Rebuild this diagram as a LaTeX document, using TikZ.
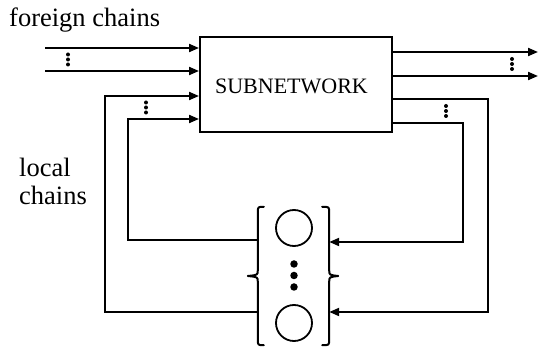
\documentclass[tikz,border=0pt]{standalone}
\usepackage{fontspec}
\setmainfont{Liberation Serif}
\usetikzlibrary{arrows.meta,calc}
\begin{document}
\begin{tikzpicture}[x=1pt,y=-1pt,
  arr/.style={line width=2pt,-{Triangle[length=10pt,width=8pt]}},
  brace/.style={line width=2pt,line cap=round,line join=round},
  chdot/.style={circle,fill=black,inner sep=0pt,minimum size=4pt},
  bigdot/.style={circle,fill=black,inner sep=0pt,minimum size=7.5pt},
  station/.style={circle,draw,line width=1.8pt,inner sep=0pt,minimum size=36pt},
  lbl/.style={inner sep=0pt,font=\fontsize{26.5}{28}\selectfont}]
\useasboundingbox (0,0) rectangle (542,347);
% subnetwork box
\node[draw,line width=2pt,minimum width=192pt,minimum height=95pt,inner sep=0pt] (sub) at (296,84.5) {};
\node[inner sep=0pt,font=\fontsize{22}{26}\selectfont,anchor=base] (subtxt) at (291.5,94) {SUBNETWORK};
% labels
\node[lbl,anchor=base west] (foreign) at (9,27) {foreign chains};
\node[lbl,anchor=base west,align=left] (local) at (19,205) {local\\chains};
% pool of stations with braces
\node[minimum width=71pt,minimum height=138pt,inner sep=0pt] (pool) at (293.5,276) {};
\node[station] (s1) at (294,228) {};
\node[station] (s2) at (294,323) {};
\node[bigdot] (d1) at (294,264) {};
\node[bigdot] (d2) at (294,275.5) {};
\node[bigdot] (d3) at (294,287) {};
\draw[brace] ($(pool.north west)+(6,0)$) .. controls ($(pool.north west)$) .. ($(pool.north west)+(0,6)$)
  -- ($(pool.west)+(0,-6)$) .. controls ($(pool.west)+(0,-1)$) .. ($(pool.west)+(-10,0)$)
  .. controls ($(pool.west)+(0,1)$) .. ($(pool.west)+(0,6)$)
  -- ($(pool.south west)+(0,-6)$) .. controls ($(pool.south west)$) .. ($(pool.south west)+(6,0)$);
\draw[brace] ($(pool.north east)+(-7,0)$) .. controls ($(pool.north east)$) .. ($(pool.north east)+(0,6)$)
  -- ($(pool.east)+(0,-6)$) .. controls ($(pool.east)+(0,-1)$) .. ($(pool.east)+(9,0)$)
  .. controls ($(pool.east)+(0,1)$) .. ($(pool.east)+(0,6)$)
  -- ($(pool.south east)+(0,-6)$) .. controls ($(pool.south east)$) .. ($(pool.south east)+(-7,0)$);
% foreign chains in
\coordinate (f1) at (45,48);
\coordinate (f2) at (45,71);
\draw[arr] (f1) -- (f1 -| sub.west);
\draw[arr] (f2) -- (f2 -| sub.west);
\node[chdot] (fd1) at (68,54.5) {};
\node[chdot] (fd2) at (68,59.5) {};
\node[chdot] (fd3) at (68,64.5) {};
% foreign chains out
\coordinate (o1) at (538,52);
\coordinate (o2) at (538,76);
\draw[arr] (o1 -| sub.east) -- (o1);
\draw[arr] (o2 -| sub.east) -- (o2);
\node[chdot] (od1) at (512,59) {};
\node[chdot] (od2) at (512,64) {};
\node[chdot] (od3) at (512,69) {};
% local chains: pool -> subnetwork (left side)
\coordinate (lo) at (105,312);
\coordinate (li) at (128,240);
\coordinate (lo2) at (105,96);
\coordinate (li2) at (128,119);
\draw[arr] (pool.west |- lo) -- (lo) -- (lo2) -- (lo2 -| sub.west);
\draw[arr] (pool.west |- li) -- (li) -- (li2) -- (li2 -| sub.west);
\node[chdot] (ld1) at (146,102.5) {};
\node[chdot] (ld2) at (146,107.5) {};
\node[chdot] (ld3) at (146,112.5) {};
% local chains: subnetwork -> pool (right side)
\coordinate (ro) at (488,99);
\coordinate (ri) at (463,123);
\coordinate (ro2) at (488,312);
\coordinate (ri2) at (463,242);
\draw[arr] (ro -| sub.east) -- (ro) -- (ro2) -- (ro2 -| pool.east);
\draw[arr] (ri -| sub.east) -- (ri) -- (ri2) -- (ri2 -| pool.east);
\node[chdot] (rd1) at (446,106) {};
\node[chdot] (rd2) at (446,111) {};
\node[chdot] (rd3) at (446,116) {};
\end{tikzpicture}
\end{document}
